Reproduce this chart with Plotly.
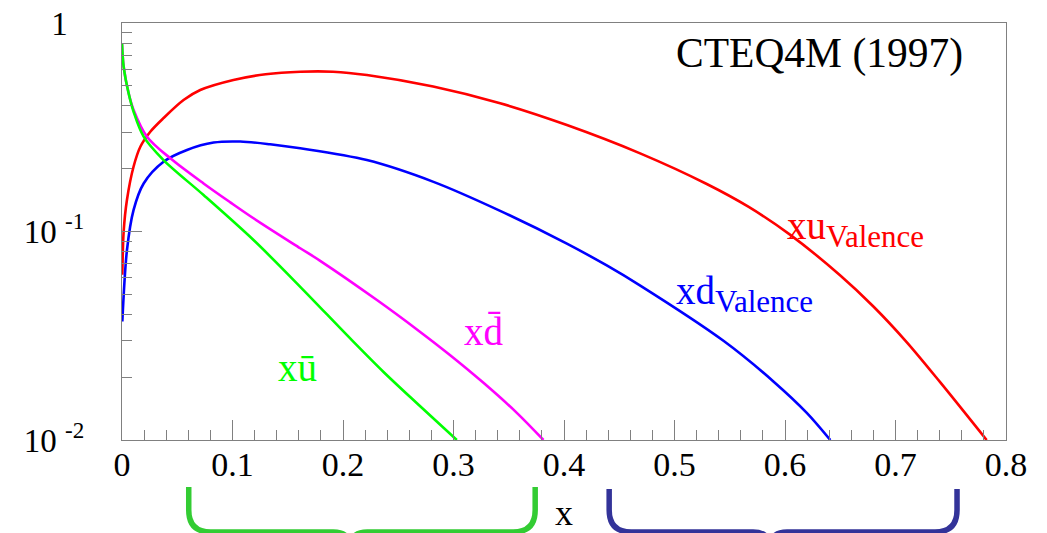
import plotly.graph_objects as go

# ---------------- data ----------------
xu_val_x = [0.0003, 0.0015, 0.0045, 0.0105, 0.0166, 0.0256, 0.0376, 0.0557, 0.0708, 0.1008,
            0.13, 0.1613, 0.191, 0.2216, 0.2816, 0.3422, 0.4026, 0.4689, 0.5292, 0.5668,
            0.6045, 0.6498, 0.680, 0.7101, 0.7402, 0.7825]
xu_val_y = [0.062, 0.10, 0.142, 0.205, 0.255, 0.301, 0.350, 0.427, 0.477, 0.533,
            0.568, 0.584, 0.584, 0.563, 0.4955, 0.412, 0.324, 0.237, 0.169, 0.1315,
            0.0966, 0.0617, 0.0437, 0.0295, 0.0190, 0.01]

xd_val_x = [0.0003, 0.0045, 0.0105, 0.0196, 0.0376, 0.0588, 0.0829, 0.107, 0.134, 0.1613,
            0.2216, 0.2819, 0.3422, 0.4026, 0.4387, 0.469, 0.5443, 0.5895, 0.6197, 0.641]
xd_val_y = [0.037, 0.0815, 0.127, 0.170, 0.216, 0.246, 0.267, 0.270, 0.262, 0.2506,
            0.220, 0.173, 0.1256, 0.0875, 0.0687, 0.055, 0.0299, 0.0191, 0.0135, 0.01]

xdbar_x = [0.0, 0.0015, 0.006, 0.0105, 0.0226, 0.0437, 0.0738, 0.098, 0.119, 0.1613,
           0.179, 0.2307, 0.2669, 0.297, 0.3271, 0.3573, 0.3814]
xdbar_y = [0.80, 0.617, 0.46, 0.383, 0.285, 0.2244, 0.170, 0.138, 0.1157, 0.0831,
           0.0725, 0.0469, 0.0339, 0.0255, 0.0188, 0.0135, 0.01]

xubar_x = [0.0, 0.0015, 0.006, 0.0105, 0.0196, 0.0376, 0.0738, 0.119, 0.1613, 0.2065,
           0.2367, 0.2669, 0.303]
xubar_y = [0.80, 0.617, 0.46, 0.375, 0.285, 0.220, 0.1496, 0.091, 0.0543, 0.0307,
           0.0212, 0.0150, 0.01]

x_tickvals = [0, 0.1, 0.2, 0.3, 0.4, 0.5, 0.6, 0.7, 0.8]
x_ticktext = ["0", "0.1", "0.2", "0.3", "0.4", "0.5", "0.6", "0.7", "0.8"]
x_minor = [round(0.02 * i, 2) for i in range(41)]

y_tickvals = [0.01, 0.1, 1]
y_ticktext = ["10\u00a0<sup>-2</sup>", "10\u00a0<sup>-1</sup>", "1\u00a0\u00a0"]
y_minor = [m * 0.01 for m in range(2, 10)] + [m * 0.1 for m in range(2, 10)]

series = [
    (xu_val_x, xu_val_y, "#ff0000", "xu valence"),
    (xd_val_x, xd_val_y, "#0000ff", "xd valence"),
    (xdbar_x, xdbar_y, "#ff00ff", "x dbar"),
    (xubar_x, xubar_y, "#00ff00", "x ubar"),
]

FONT = "Liberation Serif"
AXC = "#808080"

fig = go.Figure()
for xs, ys, col, name in series:
    fig.add_trace(go.Scatter(x=xs, y=ys, mode="lines", name=name,
                             line=dict(color=col, width=2.6, shape="spline", smoothing=0.9),
                             showlegend=False, hoverinfo="skip"))

fig.update_layout(
    width=1047, height=533, autosize=False,
    margin=dict(l=122, r=41, t=23, b=93, pad=0),
    plot_bgcolor="white", paper_bgcolor="white",
    font=dict(family=FONT, color="black"),
    xaxis=dict(
        range=[0, 0.8], showgrid=False, zeroline=False, automargin=False,
        showline=True, linecolor=AXC, linewidth=1.3, mirror=True,
        ticks="inside", ticklen=20, tickwidth=1.3, tickcolor=AXC,
        tickmode="array", tickvals=x_tickvals, ticktext=x_ticktext,
        tickfont=dict(family=FONT, size=34, color="black"),
        ticklabelstandoff=-6,
        minor=dict(ticks="inside", ticklen=10, tickwidth=1.3, tickcolor=AXC,
                   tickmode="array", tickvals=x_minor, showgrid=False),
        title=dict(text="x", font=dict(family=FONT, size=36, color="black"), standoff=18),
    ),
    yaxis=dict(
        type="log", range=[-2, 0], showgrid=False, zeroline=False, automargin=False,
        showline=True, linecolor=AXC, linewidth=1.3, mirror=True,
        ticks="inside", ticklen=20, tickwidth=1.3, tickcolor=AXC,
        tickmode="array", tickvals=y_tickvals, ticktext=y_ticktext,
        tickfont=dict(family=FONT, size=33, color="black"),
        ticklabelstandoff=30,
        minor=dict(ticks="inside", ticklen=10, tickwidth=1.3, tickcolor=AXC,
                   tickmode="array", tickvals=y_minor, showgrid=False),
    ),
)

SUB = "<sub><span style='font-size:31px'>Valence</span></sub>"
annotations = [
    dict(text="CTEQ4M (1997)", xref="paper", yref="paper", x=0.6245, y=0.928,
         xanchor="left", yanchor="middle", font=dict(size=41.5, color="black")),
    dict(text="xu" + SUB, xref="x", yref="y", x=0.6, y=-0.99,
         xanchor="left", yanchor="middle", font=dict(size=39, color="#ff0000")),
    dict(text="xd" + SUB, xref="x", yref="y", x=0.4995, y=-1.30,
         xanchor="left", yanchor="middle", font=dict(size=39, color="#0000ff")),
    dict(text="xd\u0304", xref="x", yref="y", x=0.3075, y=-1.48,
         xanchor="left", yanchor="middle", font=dict(size=39, color="#ff00ff")),
    dict(text="x\u016b", xref="x", yref="y", x=0.139, y=-1.65,
         xanchor="left", yanchor="middle", font=dict(size=39, color="#00ff00")),
]
for a in annotations:
    a["showarrow"] = False
    a["font"]["family"] = FONT
fig.update_layout(annotations=annotations)


def brace(x0, x1, xm, ytop, ybot, rx, ry, rxm, rym):
    return (f"M {x0},{ytop} L {x0},{ybot + ry} Q {x0},{ybot} {x0 + rx},{ybot} "
            f"L {xm - rxm},{ybot} Q {xm},{ybot} {xm},{ybot - rym} "
            f"M {x1},{ytop} L {x1},{ybot + ry} Q {x1},{ybot} {x1 - rx},{ybot} "
            f"L {xm + rxm},{ybot} Q {xm},{ybot} {xm},{ybot - rym}")


RX, RY, RXM, RYM = 0.0249, 0.0528, 0.0192, 0.0408
fig.add_shape(type="path", xref="paper", yref="paper",
              path=brace(0.0755, 0.4674, 0.2582, -0.1127, -0.2206, RX, RY, RXM, RYM),
              line=dict(color="#33cc33", width=5.5))
fig.add_shape(type="path", xref="paper", yref="paper",
              path=brace(0.5511, 0.9446, 0.7331, -0.1175, -0.2206, RX, RY, RXM, RYM),
              line=dict(color="#333399", width=5.5))

fig.write_html("out.html")
